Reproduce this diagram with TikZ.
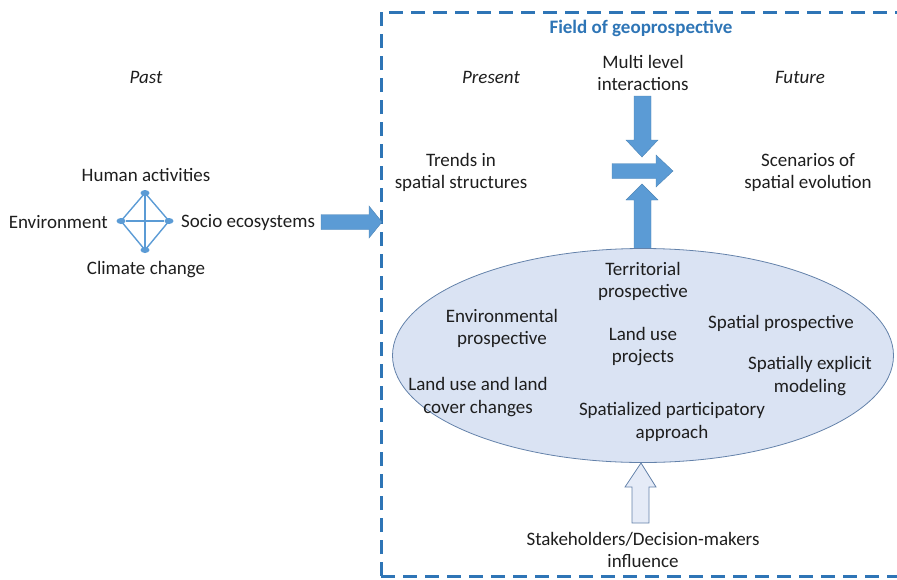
\documentclass[tikz,border=0pt]{standalone}
\usepackage{fontspec}
\setmainfont{Carlito}
\usetikzlibrary{shapes.geometric}
\definecolor{dashblue}{RGB}{46,117,182}
\definecolor{arrblue}{RGB}{91,155,213}
\definecolor{ellfill}{RGB}{218,227,243}
\definecolor{ellline}{RGB}{100,130,170}
\definecolor{txt}{RGB}{30,30,30}
\tikzset{
  lbl/.style={font=\fontsize{19}{22.5}\selectfont, text=txt, align=center, inner sep=0pt},
  itl/.style={lbl, font=\fontsize{19}{22.5}\selectfont\itshape},
  blockarrow/.style={fill=arrblue, draw=arrblue!85!black, line width=0.4pt},
  hollowarrow/.style={fill=ellfill!70!white, draw=ellline, line width=0.8pt},
  dot/.style={ellipse, fill=arrblue, minimum width=9pt, minimum height=6pt, inner sep=0pt},
  net/.style={draw=arrblue, line width=1.4pt}
}
\begin{document}
\begin{tikzpicture}[x=1pt,y=-1pt]
\useasboundingbox (0,0) rectangle (897,579);
\clip (0,0) rectangle (897,579);
% dashed field
\draw[dashblue, line width=3pt, dash pattern=on 14pt off 8pt] (381,576) -- (381,12) -- (910,12);
\draw[dashblue, line width=3pt, dash pattern=on 14pt off 8pt] (381,576) -- (910,576);
\node[lbl, text=dashblue, font=\fontsize{19}{22.5}\selectfont\bfseries] (title) at (641,28) {Field of geoprospective};
% time labels
\node[itl] (past) at (146,77) {Past};
\node[itl] (present) at (491,77) {Present};
\node[itl] (future) at (800,77) {Future};
\node[lbl] (multi) at (643,73) {Multi level\\interactions};
% past network
\node[dot] (ha) at (145,193) {};
\node[dot] (env) at (121,221) {};
\node[dot] (soc) at (169,221) {};
\node[dot] (cc) at (145,250) {};
\draw[net] (ha.center) -- (soc.center) -- (cc.center) -- (env.center) -- cycle;
\draw[net] (ha) -- (cc);
\draw[net] (env) -- (soc);
\node[lbl] (hal) at (146,175) {Human activities};
\node[lbl, anchor=east] (envl) at (108,222) {Environment};
\node[lbl, anchor=west] (socl) at (181,222) {Socio ecosystems};
\node[lbl] (ccl) at (146,270) {Climate change};
% arrow into field
\fill[blockarrow] (321,214.5) -- (369,214.5) -- (369,206) -- (382,222) -- (369,238) -- (369,229.5) -- (321,229.5) -- cycle;
% present / future
\node[lbl] (trends) at (461,172.5) {Trends in\\spatial structures};
\node[lbl] (scen) at (808,172.5) {Scenarios of\\spatial evolution};
% central arrows
\fill[blockarrow] (634,96) -- (651,96) -- (651,140) -- (658,140) -- (642,157) -- (626,140) -- (634,140) -- cycle;
\fill[blockarrow] (612,163.5) -- (656,163.5) -- (656,155) -- (673,171) -- (656,187) -- (656,178.5) -- (612,178.5) -- cycle;
\fill[blockarrow] (634,249) -- (651,249) -- (651,200) -- (658,200) -- (642,184) -- (626,200) -- (634,200) -- cycle;
% ellipse
\node[ellipse, fill=ellfill, draw=ellline, line width=0.8pt, minimum width=501pt, minimum height=214pt, inner sep=0pt] (ell) at (643,355.5) {};
\node[lbl] (terr) at (643,281.5) {Territorial\\prospective};
\node[lbl] (envp) at (502,328.5) {Environmental\\prospective};
\node[lbl] (lup) at (643,346.5) {Land use\\projects};
\node[lbl] (spp) at (781,323) {Spatial prospective};
\node[lbl] (sem) at (810,376) {Spatially explicit\\modeling};
\node[lbl] (lulc) at (478,397) {Land use and land\\cover changes};
\node[lbl] (spa) at (672,422) {Spatialized participatory\\approach};
% stakeholder arrow
\draw[hollowarrow] (632,523) -- (649,523) -- (649,487) -- (656,487) -- (641,463) -- (625,487) -- (632,487) -- cycle;
\node[lbl] (stake) at (643,550) {Stakeholders/Decision-makers\\influence};
\end{tikzpicture}
\end{document}
